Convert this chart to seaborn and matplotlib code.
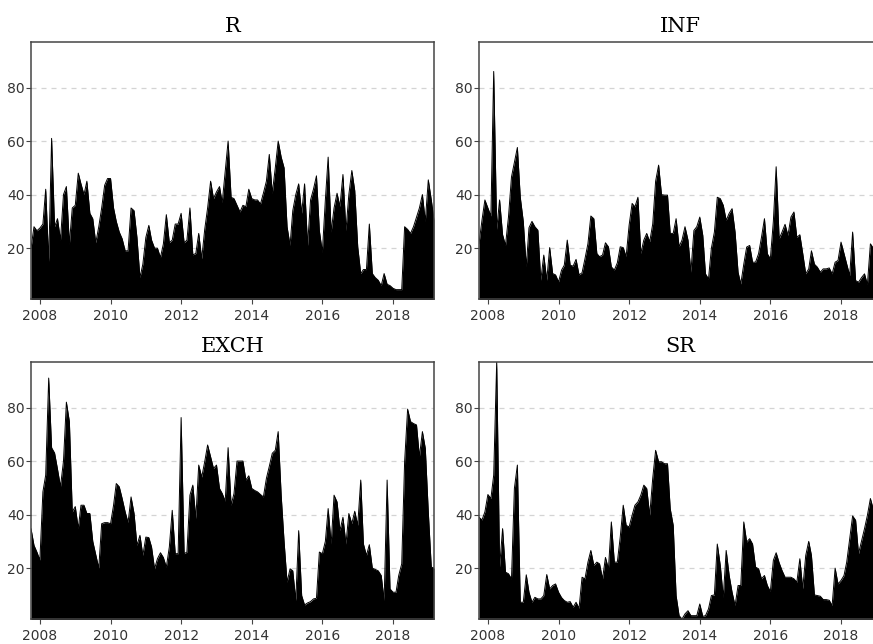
import matplotlib
matplotlib.use('Agg')
import matplotlib.pyplot as plt
import matplotlib.dates as mdates
import pandas as pd
import seaborn as sns

# monthly observations, Oct 2007 .. Mar 2019
dates = pd.date_range('2007-10-01', periods=138, freq='MS')
titles = ['R', 'INF', 'EXCH', 'SR']
y_ticks = [20, 40, 60, 80]
x_years = [2008, 2010, 2012, 2014, 2016, 2018]

r_vals = [20, 28, 26.5, 27.5, 29, 42, 15, 61, 28, 31, 23, 40,
          43, 21.5, 35, 36, 48, 44, 40, 45, 33, 31, 22, 28,
          35, 43.5, 46, 46, 35, 30, 26, 23.5, 19, 19, 35, 34,
          24, 9, 14, 24, 28.5, 23, 20, 20, 16.5, 21.5, 32.5, 22,
          23, 29, 29, 33, 22, 23, 35, 17.5, 18, 25.5, 16, 27,
          35, 45, 38.5, 41, 43, 37, 48.5, 60, 39, 38.5, 36, 33.5,
          36, 35.5, 42, 38.5, 38, 38, 36.5, 40.5, 45, 55, 40.5, 50,
          60, 54, 50, 28, 21, 34, 40, 44, 33, 44, 21, 38,
          42, 47, 26.5, 18.5, 38, 54, 26, 35, 40.5, 35.5, 47.5, 26.5,
          40, 49, 41.5, 20.5, 10.5, 12, 12, 29, 10.5, 9, 8, 6,
          10.5, 6.5, 6, 5, 4.5, 4.5, 4.5, 28, 27, 25.5, 28, 31.5,
          35, 40, 30, 45.5, 38, 30.5]

inf_vals = [21.7, 30.5, 38, 35, 32, 86, 27, 38, 25, 21, 31.7, 46.6,
            52, 57.6, 39, 30, 13, 27.6, 30, 28, 26.7, 8, 17.4, 8,
            20.2, 10.5, 10, 7.4, 11.8, 13.6, 23, 13.6, 13.3, 15.8, 10, 10.8,
            16, 21.7, 32, 31, 18, 16.8, 17.4, 22, 20.5, 13, 11.8, 14.5,
            20.5, 20.2, 16.8, 28.6, 36.7, 35.4, 39, 18, 23, 25.5, 22.4, 29,
            45, 51, 40, 39.8, 39.8, 25.5, 25.5, 31, 20.5, 23, 28, 23,
            11, 26.6, 28, 31.6, 24.75, 10.4, 8.5, 20, 26, 39, 38.5, 36,
            30.4, 33, 34.75, 26, 11, 6.6, 14, 20.4, 21, 14.75, 14.75, 17.9,
            24, 31, 17.9, 16, 30, 50.4, 23.5, 26, 28.9, 24.75, 31.6, 33.5,
            24, 25, 18, 10.4, 12.25, 19, 14, 12.9, 11, 12.25, 12.25, 12.6,
            10.4, 14.75, 15.4, 22.25, 18, 14, 9.75, 26, 7.9, 7.25, 9, 10.4,
            6.4, 21.6, 20, 16, 14, 12]

exch_vals = [34.75, 28.5, 26, 23, 48.5, 54.75, 91, 65, 63, 57, 50.4, 60,
             82, 74.75, 41, 43, 34.75, 43.5, 43.5, 40.4, 40.4, 30, 25, 20,
             36.6, 37, 37, 36.6, 43.5, 51.6, 50.4, 46, 41, 37, 46.6, 40.4,
             28.5, 32.25, 24.75, 31.6, 31.4, 27.9, 19.75, 23.5, 25.75, 24, 20.4, 27.9,
             41.6, 25.4, 25.4, 76.25, 25.4, 26, 47.25, 51, 38.5, 58.5, 54, 59.75,
             66, 61.6, 57.25, 58.5, 49.75, 47.9, 45, 65, 43.5, 47.9, 60, 60,
             60, 52.9, 54.5, 49.75, 49, 48.5, 47.5, 46.6, 53.5, 58, 62.9, 64,
             71, 47.25, 30, 14.75, 19.75, 19, 7.9, 34, 9.75, 6.25, 7, 7.5,
             8.5, 8.75, 26, 25.4, 30, 42.25, 29, 47.25, 44.75, 34, 39, 29,
             40.4, 36.6, 41.25, 36, 52.9, 29, 24.75, 28.75, 20, 19.5, 19, 17.25,
             7.9, 52.9, 12.25, 11, 11, 17.25, 21.6, 59.75, 79.4, 74.75, 74, 73.5,
             61.6, 71, 64.75, 41, 20.4, 20]

sr_vals = [39, 38, 41, 47.5, 46, 54.75, 97, 20.4, 34.75, 18.5, 17.9, 16,
           49.75, 58.5, 7.25, 7.25, 17.5, 11, 7.25, 9.1, 8.5, 8.5, 9.75, 17.6,
           12.25, 13.5, 14.1, 11, 9, 7.9, 7.25, 7.5, 5.4, 7.25, 5, 16.6,
           16, 22.25, 26.6, 21, 22.25, 21.6, 16, 24, 19.75, 37.25, 22.25, 22.25,
           31.6, 43.5, 36, 35.4, 39.75, 43.5, 44.75, 47.25, 51, 49.75, 39.75, 53.5,
           64, 59.75, 59.75, 59, 59, 42.25, 36, 9.75, 2.25, 1, 2.9, 4.1,
           2.25, 2.25, 2.25, 6.6, 2, 2.25, 4.75, 9.75, 10, 29, 21, 9.1,
           26.6, 17.25, 11, 6, 13.5, 13.5, 37.25, 29.75, 31, 29, 20.4, 19.75,
           16, 17.25, 13.5, 11.25, 22.9, 25.75, 22, 19.1, 16.6, 16.6, 16.6, 16,
           14.75, 23.5, 12.25, 24.75, 30, 24.75, 10, 9.75, 9.5, 8.25, 8.25, 8,
           6, 20, 14.1, 15.4, 17.25, 22.25, 31, 39.5, 37.9, 25.4, 30, 34.75,
           39.75, 46, 42, 40, 44, 46]

df = pd.DataFrame({'date': dates, 'R': r_vals, 'INF': inf_vals,
                   'EXCH': exch_vals, 'SR': sr_vals})

sns.set_style('white')
plt.rcParams['font.family'] = ['DejaVu Sans']

W, H = 873, 644
fig = plt.figure(figsize=(W / 100, H / 100), dpi=100)

# axes boxes in pixels (left, top); the right column runs past the page edge
corners = [(31, 42), (479, 42), (31, 362), (479, 362)]
aw, ah = 403, 257

for name, (px, py) in zip(titles, corners):
    ax = fig.add_axes([px / W, 1 - (py + ah) / H, aw / W, ah / H])
    ax.fill_between(df['date'], df[name], 0, color='black', lw=0)
    sns.lineplot(data=df, x='date', y=name, ax=ax, color='black', lw=0.7)
    ax.set_xlim(dates[0], dates[-1])
    ax.set_ylim(1, 97)
    ax.set_yticks(y_ticks)
    ax.set_xticks([pd.Timestamp(f'{y}-01-01') for y in x_years])
    ax.xaxis.set_major_formatter(mdates.DateFormatter('%Y'))
    ax.set_xlabel('')
    ax.set_ylabel('')
    ax.set_axisbelow(True)
    ax.yaxis.grid(True, linestyle=(0, (4, 4)), color='#d4d4d4', lw=0.9)
    ax.xaxis.grid(False)
    for sp in ax.spines.values():
        sp.set_color('#454545')
        sp.set_linewidth(1.1)
    ax.tick_params(axis='both', length=3.5, width=0.8, color='#454545',
                   labelsize=10, labelcolor='#333333', bottom=True, left=True)
    ax.tick_params(axis='y', pad=1)
    ax.tick_params(axis='x', pad=4)
    ax.set_title(name, family='DejaVu Serif', fontsize=15, pad=7, color='black')

fig.savefig('out.png', dpi=100)
